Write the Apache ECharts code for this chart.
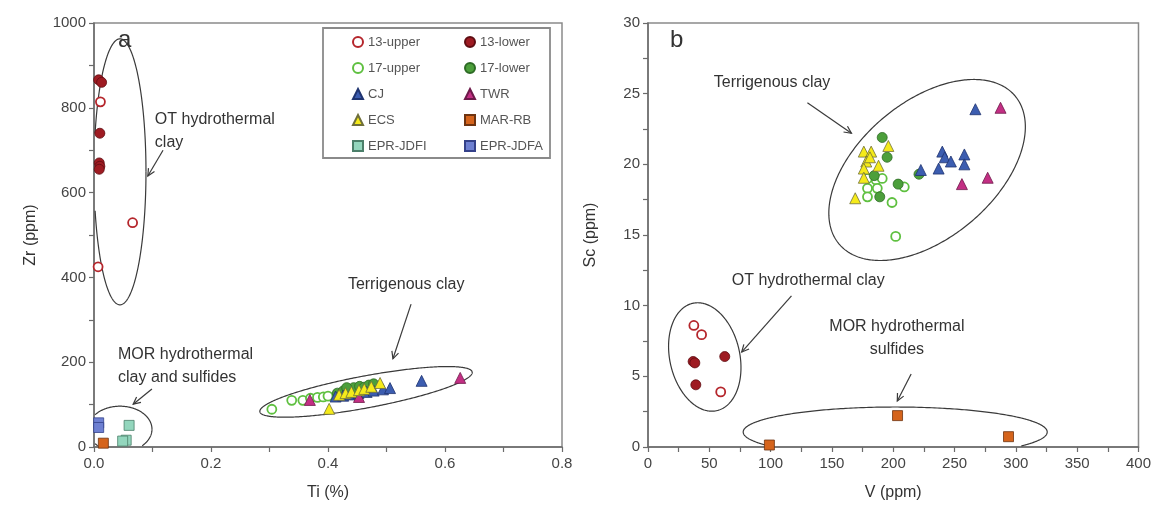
<!DOCTYPE html>
<html><head><meta charset="utf-8">
<script src="https://cdn.jsdelivr.net/npm/echarts@6/dist/echarts.min.js"></script>
<style>html,body{margin:0;padding:0;background:#fff}#c{width:1154px;height:514px}</style>
</head><body><div id="c"></div>
<script>
// ---------- Panel a : Zr (ppm) vs Ti (%) ----------
const a13upper = [[0.011,814],[0.066,529],[0.007,425]];
const a13lower = [[0.008,866],[0.013,860],[0.010,740],[0.009,670],[0.010,662],[0.009,655]];
const a17upper = [[0.304,89],[0.338,110],[0.357,110],[0.370,115],[0.382,117],[0.392,118],[0.400,120]];
const a17lower = [[0.416,127],[0.426,132],[0.434,136],[0.444,140],[0.454,143],[0.462,141],[0.470,146],[0.478,149],[0.432,140]];
const aCJ  = [[0.413,119],[0.426,121],[0.438,124],[0.452,127],[0.466,130],[0.478,133],[0.494,136],[0.506,139],[0.560,156]];
const aTWR = [[0.369,111],[0.453,118],[0.626,163]];
const aECS = [[0.402,90],[0.419,123],[0.430,127],[0.440,130],[0.453,134],[0.462,137],[0.474,142],[0.489,151]];
const aMAR = [[0.016,9]];
const aJDFI = [[0.060,51],[0.055,16],[0.049,14]];
const aJDFA = [[0.008,57],[0.008,46]];

// ---------- Panel b : Sc (ppm) vs V (ppm) ----------
const b13upper = [[37.4,8.6],[43.7,7.95],[59.3,3.9]];
const b13lower = [[36.8,6.05],[38.2,5.95],[62.6,6.4],[39.0,4.4]];
const b17upper = [[179,19.0],[186,18.9],[191,19.0],[179,18.3],[187,18.3],[179,17.7],[209,18.4],[199,17.3],[202,14.9]];
const b17lower = [[191,21.9],[195,20.5],[184.5,19.2],[204,18.6],[189,17.7],[221,19.3]];
const bCJ  = [[267,23.9],[240,20.9],[242,20.5],[247,20.2],[237,19.7],[258,20.7],[258,20.0],[222.5,19.6]];
const bTWR = [[287.5,24.0],[256,18.6],[277,19.05]];
const bECS = [[176,20.9],[182,20.9],[196,21.3],[178,20.2],[188,19.9],[176,19.7],[176,19.05],[169,17.6],[181,20.5]];
const bMAR = [[99,0.14],[203.5,2.22],[294,0.73]];

const legendLeft  = ['13-upper','17-upper','CJ','ECS','EPR-JDFI'];
const legendRight = ['13-lower','17-lower','TWR','MAR-RB','EPR-JDFA'];

const FONT = 'Liberation Sans, Arial, sans-serif';
const styles = {
  '13-upper': {symbol:'circle', size:9, itemStyle:{color:'#ffffff', borderColor:'#b5262c', borderWidth:1.8}},
  '13-lower': {symbol:'circle', size:10, itemStyle:{color:'#9e1b22', borderColor:'#5e0d12', borderWidth:0.8}},
  '17-upper': {symbol:'circle', size:9, itemStyle:{color:'#ffffff', borderColor:'#5fc040', borderWidth:1.8}},
  '17-lower': {symbol:'circle', size:10, itemStyle:{color:'#4c9f3b', borderColor:'#2d6b25', borderWidth:0.8}},
  'CJ':       {symbol:'triangle', size:11, itemStyle:{color:'#3c5db0', borderColor:'#1f3470', borderWidth:0.8}},
  'TWR':      {symbol:'triangle', size:11, itemStyle:{color:'#c32f84', borderColor:'#6e1a4a', borderWidth:0.8}},
  'ECS':      {symbol:'triangle', size:11, itemStyle:{color:'#f5ea1a', borderColor:'#6f6f3a', borderWidth:0.8}},
  'MAR-RB':   {symbol:'rect', size:10, itemStyle:{color:'#d5641c', borderColor:'#6e3410', borderWidth:0.8}},
  'EPR-JDFI': {symbol:'rect', size:10, itemStyle:{color:'#93d6bd', borderColor:'#4b7f6a', borderWidth:0.8}},
  'EPR-JDFA': {symbol:'rect', size:10, itemStyle:{color:'#6e80d2', borderColor:'#34418a', borderWidth:0.8}}
};
function mk(name, data, gi) {
  const s = styles[name];
  return {type:'scatter', name, data, xAxisIndex:gi, yAxisIndex:gi,
    symbol:s.symbol, symbolSize:s.size, itemStyle:Object.assign({opacity:1}, s.itemStyle),
    emphasis:{disabled:true}, z:3};
}
const series = [
  mk('13-upper',a13upper,0), mk('13-lower',a13lower,0), mk('17-upper',a17upper,0), mk('17-lower',a17lower,0),
  mk('CJ',aCJ,0), mk('TWR',aTWR,0), mk('ECS',aECS,0), mk('MAR-RB',aMAR,0), mk('EPR-JDFI',aJDFI,0), mk('EPR-JDFA',aJDFA,0),
  mk('13-upper',b13upper,1), mk('13-lower',b13lower,1), mk('17-upper',b17upper,1), mk('17-lower',b17lower,1),
  mk('CJ',bCJ,1), mk('TWR',bTWR,1), mk('ECS',bECS,1), mk('MAR-RB',bMAR,1)
];

const axLine = {lineStyle:{color:'#6b6b6b', width:1.5}};
const tick = {show:true, length:5, inside:false, lineStyle:{color:'#6b6b6b', width:1.2}};
const minor = {show:true, splitNumber:2, length:5, lineStyle:{color:'#6b6b6b', width:1.2}};
const lab = {fontSize:15, color:'#444', fontFamily:FONT};
const nameStyle = {fontSize:16, color:'#333', fontFamily:FONT};
function xAx(gi, min, max, interval, name, fmt) {
  return {type:'value', gridIndex:gi, min, max, interval, name, nameLocation:'middle', nameGap:38,
    nameTextStyle:nameStyle, axisLine:axLine, axisTick:tick, minorTick:minor, splitLine:{show:false},
    axisLabel:Object.assign({margin:9, formatter:fmt}, lab)};
}
function yAx(gi, min, max, interval, name, gap) {
  return {type:'value', gridIndex:gi, min, max, interval, name, nameLocation:'middle', nameGap:gap,
    nameRotate:90, nameTextStyle:nameStyle, axisLine:axLine, axisTick:tick, minorTick:minor, splitLine:{show:false},
    axisLabel:Object.assign({margin:8, formatter: v => String(v)}, lab)};
}

const chart = echarts.init(document.getElementById('c'), null, {renderer:'canvas'});
const legendText = {fontSize:13, color:'#555', fontFamily:FONT, lineHeight:14};
chart.setOption({
  animation:false,
  backgroundColor:'#fff',
  grid:[
    {left:94, top:23, width:468, height:424, show:true, borderColor:'#8a8a8a', borderWidth:1.5},
    {left:648, top:23, width:492, height:424, show:true, borderColor:'#8a8a8a', borderWidth:1.5}
  ],
  xAxis:[ xAx(0,0,0.8,0.2,'Ti (%)', v => v.toFixed(1)), xAx(1,0,400,50,'V (ppm)', v => String(v)) ],
  yAxis:[ yAx(0,0,1000,200,'Zr (ppm)',55), yAx(1,0,30,5,'Sc (ppm)',49) ],
  legend:[
    {data:legendLeft, left:347, top:30, orient:'vertical', itemWidth:10, itemHeight:10, itemGap:12,
     selectedMode:false, textStyle:legendText},
    {data:legendRight, left:459, top:30, orient:'vertical', itemWidth:10, itemHeight:10, itemGap:12,
     selectedMode:false, textStyle:legendText}
  ],
  series
});

// ---------- annotations (anchored in data coordinates) ----------
const ellipses = [
  {g:0, c:[0.0444,649], rx:26, ry:133, rot:0.0},
  {g:0, c:[0.0444,42], rx:32, ry:23, rot:0.0},
  {g:0, c:[0.465,130], rx:108, ry:16, rot:0.185},
  {g:1, c:[227.6,19.6], rx:115, ry:68, rot:0.70},
  {g:1, c:[46.3,6.37], rx:35, ry:55, rot:0.22},
  {g:1, c:[201.6,1.06], rx:152, ry:25, rot:0.0}
];
const arrows = [
  {g:0, from:[0.118,700], to:[0.092,639]},
  {g:0, from:[0.099,137], to:[0.067,101]},
  {g:0, from:[0.542,337], to:[0.511,208]},
  {g:1, from:[130,24.35], to:[165.9,22.2]},
  {g:1, from:[117,10.7], to:[76.4,6.72]},
  {g:1, from:[214.6,5.17], to:[203.3,3.26]}
];
const texts = [
  {g:0, at:[0.104,800], text:'OT hydrothermal\nclay', align:'left', size:16},
  {g:0, at:[0.041,245], text:'MOR hydrothermal\nclay and sulfides', align:'left', size:16},
  {g:0, at:[0.434,382], text:'Terrigenous clay', align:'left', size:16, vmid:true},
  {g:0, at:[0.041,960], text:'a', align:'left', size:24, vmid:true},
  {g:1, at:[53.7,25.8], text:'Terrigenous clay', align:'left', size:16, vmid:true},
  {g:1, at:[68.3,11.75], text:'OT hydrothermal clay', align:'left', size:16, vmid:true},
  {g:1, at:[203,7.7], text:'MOR hydrothermal\nsulfides', align:'center', size:16, vmid:true},
  {g:1, at:[17.9,28.8], text:'b', align:'left', size:24, vmid:true}
];

function px(g, p) { return chart.convertToPixel({gridIndex:g}, p); }
function gridRect(g) {
  const xa = g === 0 ? [0,0.8] : [0,400];
  const ya = g === 0 ? [0,1000] : [0,30];
  const p0 = px(g,[xa[0],ya[0]]), p1 = px(g,[xa[1],ya[1]]);
  return {x0:Math.min(p0[0],p1[0]), x1:Math.max(p0[0],p1[0]), y0:Math.min(p0[1],p1[1]), y1:Math.max(p0[1],p1[1])};
}
const els = [];
const LS = {stroke:'#3a3a3a', lineWidth:1.2, fill:null};
ellipses.forEach(e => {
  const c = px(e.g, e.c), r = gridRect(e.g);
  const segs = []; let cur = [];
  const N = 360;
  for (let i = 0; i <= N; i++) {
    const t = i * 2 * Math.PI / N;
    const ex = e.rx * Math.cos(t), ey = e.ry * Math.sin(t);
    const x = c[0] + ex * Math.cos(e.rot) - ey * Math.sin(e.rot);
    const y = c[1] - (ex * Math.sin(e.rot) + ey * Math.cos(e.rot));
    const inside = x >= r.x0 + 1 && x <= r.x1 && y >= r.y0 && y <= r.y1 - 1;
    if (inside) cur.push([x,y]); else { if (cur.length > 1) segs.push(cur); cur = []; }
  }
  if (cur.length > 1) segs.push(cur);
  segs.forEach(s => els.push({type:'polyline', shape:{points:s}, style:LS, z:2, silent:true}));
});
arrows.forEach(a => {
  const p0 = px(a.g, a.from), p1 = px(a.g, a.to);
  const dx = p1[0]-p0[0], dy = p1[1]-p0[1], L = Math.hypot(dx,dy);
  const ux = dx/L, uy = dy/L, h = 8, ang = 0.45;
  const rot = (s) => [ux*Math.cos(s) - uy*Math.sin(s), ux*Math.sin(s) + uy*Math.cos(s)];
  const r1 = rot(ang), r2 = rot(-ang);
  els.push({type:'polyline', shape:{points:[p0,p1]}, style:LS, z:2, silent:true});
  els.push({type:'polyline', shape:{points:[[p1[0]-h*r1[0], p1[1]-h*r1[1]], p1, [p1[0]-h*r2[0], p1[1]-h*r2[1]]]}, style:LS, z:2, silent:true});
});
texts.forEach(t => {
  const p = px(t.g, t.at);
  els.push({type:'text', x:p[0], y:p[1], z:4, silent:true,
    style:{text:t.text, fontSize:t.size, fontFamily:FONT, fill:'#333', align:t.align,
      verticalAlign: t.vmid ? 'middle' : 'top', lineHeight: t.size === 16 ? 23 : undefined}});
});
// legend frame
els.push({type:'rect', shape:{x:323, y:28, width:227, height:130}, style:{fill:null, stroke:'#8a8a8a', lineWidth:1.8}, z:1, silent:true});
chart.setOption({graphic:els});
</script></body></html>
